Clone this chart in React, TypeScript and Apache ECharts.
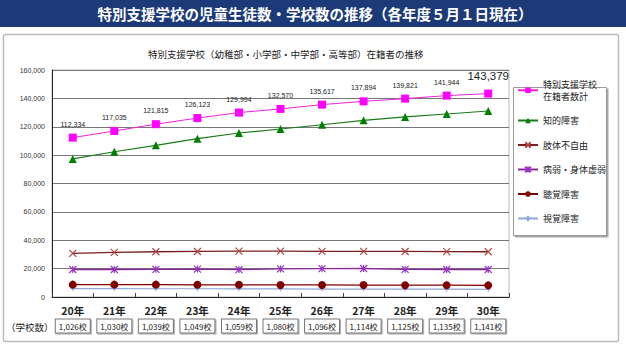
import React, { useEffect, useRef } from "react";
import * as echarts from "echarts";

const years = ["20年", "21年", "22年", "23年", "24年", "25年", "26年", "27年", "28年", "29年", "30年"];
const schoolCounts = ["1,026校", "1,030校", "1,039校", "1,049校", "1,059校", "1,080校", "1,096校", "1,114校", "1,125校", "1,135校", "1,141校"];
const totalStudents = [112334, 117035, 121815, 126123, 129994, 132570, 135617, 137894, 139821, 141944, 143379];
const intellectual = [97300, 102400, 106900, 111600, 115600, 118400, 121400, 124500, 126900, 129000, 131100];
const physical = [30800, 31500, 31900, 32100, 32300, 32300, 32200, 32200, 32100, 32000, 31900];
const health = [19400, 19400, 19500, 19700, 19300, 19800, 20000, 20100, 19500, 19400, 19400];
const hearing = [8700, 8700, 8700, 8600, 8600, 8500, 8500, 8400, 8300, 8300, 8200];
const visual = [5900, 5900, 5800, 5800, 5700, 5700, 5600, 5600, 5500, 5500, 5400];
const yTicks = { min: 0, max: 160000, interval: 20000 };

const titleText = "特別支援学校の児童生徒数・学校数の推移（各年度５月１日現在）";
const subTitle = "特別支援学校（幼稚部・小学部・中学部・高等部）在籍者の推移";
const names = ["特別支援学校在籍者数計", "知的障害", "肢体不自由", "病弱・身体虚弱", "聴覚障害", "視覚障害"];
const firstNameLines = ["特別支援学校", "在籍者数計"];

const JP = "'Noto Sans CJK JP', 'Noto Sans', sans-serif";
const NUM = "'Liberation Sans', Arial, sans-serif";

const fmt = (v: number) => v.toLocaleString("en-US");

export default function App() {
  const ref = useRef<HTMLDivElement>(null);
  useEffect(() => {
    if (!ref.current) return;
    const chart = echarts.init(ref.current, undefined, { renderer: "svg" });
    const crossPath = "path://M0,0L10,10M10,0L0,10";
    const starPath = "path://M0,0L10,10M10,0L0,10M5,0L5,10";
    const plusPath = "path://M3,5L7,5M5,0L5,10";
    const option: any = {
      animation: false,
      textStyle: { fontFamily: JP },
      grid: { left: 52, right: 117, top: 70, bottom: 54, show: true, borderColor: "#bbb", borderWidth: 1 },
      xAxis: {
        type: "category",
        data: years,
        boundaryGap: true,
        axisLine: { lineStyle: { color: "#222", width: 1 } },
        axisTick: { show: true, inside: true, length: 4, lineStyle: { color: "#444" } },
        axisLabel: {
          margin: 4,
          interval: 0,
          formatter: (v: string, i: number) => `{a|${v}}\n{b|${schoolCounts[i]}}`,
          rich: {
            a: { fontSize: 10.5, fontWeight: "bold", color: "#222", lineHeight: 18, fontFamily: JP },
            b: {
              fontSize: 8,
              color: "#222",
              fontFamily: JP,
              borderColor: "#777",
              borderWidth: 1,
              padding: [3, 3, 2, 3],
              backgroundColor: "#fff",
              shadowColor: "rgba(0,0,0,0.35)",
              shadowOffsetX: 1,
              shadowOffsetY: 1,
              shadowBlur: 0,
              lineHeight: 14,
            },
          },
        },
      },
      yAxis: {
        type: "value",
        min: yTicks.min,
        max: yTicks.max,
        interval: yTicks.interval,
        axisLine: { show: true, lineStyle: { color: "#222" } },
        axisTick: { show: false },
        axisLabel: { fontSize: 7, color: "#333", fontFamily: NUM, formatter: (v: number) => fmt(v), margin: 7 },
        splitLine: { lineStyle: { color: "#777", width: 1 } },
      },
      legend: {
        data: names,
        orient: "vertical",
        left: 517,
        top: 80,
        padding: 0,
        itemWidth: 20,
        itemHeight: 7,
        itemGap: 15.5,
        selectedMode: false,
        formatter: (n: string) =>
          n === names[0] ? firstNameLines.map((l) => `{t|${l}}`).join("\n") : `{s|${n}}`,
        textStyle: {
          color: "#222",
          fontFamily: JP,
          fontSize: 9,
          rich: {
            t: { fontSize: 9, lineHeight: 11.5, color: "#222", fontFamily: JP },
            s: { fontSize: 9, lineHeight: 11, color: "#222", fontFamily: JP },
          },
        },
      },
      series: [
        {
          name: names[0],
          type: "line",
          data: totalStudents.map((v, i) =>
            i === totalStudents.length - 1
              ? { value: v, label: { fontSize: 11.5, distance: 8, color: "#222" } }
              : v
          ),
          symbol: "rect",
          symbolSize: 8,
          lineStyle: { color: "#ee22dd", width: 1 },
          itemStyle: { color: "#ff00ff" },
          label: { show: true, position: "top", fontSize: 7, color: "#222", fontFamily: NUM, distance: 6, formatter: (p: any) => fmt(p.value) },
          z: 5,
        },
        {
          name: names[1],
          type: "line",
          data: intellectual,
          symbol: "triangle",
          symbolSize: 8,
          lineStyle: { color: "#1a7a1a", width: 1.2 },
          itemStyle: { color: "#008000" },
          z: 4,
        },
        {
          name: names[2],
          type: "line",
          data: physical,
          symbol: crossPath,
          symbolSize: 7,
          lineStyle: { color: "#7a1f1f", width: 1.3 },
          itemStyle: { color: "#b04848", borderColor: "#b04848", borderWidth: 1.2 },
          z: 4,
        },
        {
          name: names[3],
          type: "line",
          data: health,
          symbol: starPath,
          symbolSize: 7,
          lineStyle: { color: "#8a2a9a", width: 1.3 },
          itemStyle: { color: "#9933cc", borderColor: "#9933cc", borderWidth: 1.2 },
          z: 4,
        },
        {
          name: names[4],
          type: "line",
          data: hearing,
          symbol: "circle",
          symbolSize: 8,
          lineStyle: { color: "#800000", width: 1.3 },
          itemStyle: { color: "#800000" },
          z: 4,
        },
        {
          name: names[5],
          type: "line",
          data: visual,
          symbol: plusPath,
          symbolSize: 5,
          lineStyle: { color: "#8fa8d8", width: 1.2 },
          itemStyle: { color: "#8fa8d8", borderColor: "#8fa8d8", borderWidth: 1 },
          z: 3,
        },
      ],
      graphic: [
        { type: "rect", shape: { x: 0, y: 0, width: 626, height: 27 }, style: { fill: "#1d3a78" }, z: 0 },
        {
          type: "text",
          x: 315,
          y: 13.5,
          style: { text: titleText, fill: "#fff", fontSize: 14.5, fontWeight: "bold", fontFamily: JP, align: "center", verticalAlign: "middle" },
          z: 1,
        },
        {
          type: "rect",
          shape: { x: 3.5, y: 34.5, width: 615, height: 307, r: 2 },
          style: { fill: "none", stroke: "#bbb", lineWidth: 1.5 },
          z: -1,
        },
        {
          type: "text",
          x: 148,
          y: 54,
          style: { text: subTitle, fill: "#222", fontSize: 9.5, fontFamily: JP, align: "left", verticalAlign: "middle" },
        },
        {
          type: "rect",
          shape: { x: 513.5, y: 87.5, width: 93, height: 148 },
          style: { fill: "#fff", stroke: "#999", lineWidth: 1, shadowColor: "rgba(0,0,0,0.35)", shadowOffsetX: 1.5, shadowOffsetY: 1.5, shadowBlur: 1 },
          z: -1,
        },
        {
          type: "text",
          x: 6,
          y: 327,
          style: { text: "（学校数）", fill: "#222", fontSize: 9.5, fontFamily: JP, align: "left", verticalAlign: "middle" },
        },
      ],
    };
    chart.setOption(option);
    return () => chart.dispose();
  }, []);
  return <div ref={ref} style={{ position: "absolute", left: 0, top: 0, width: 626, height: 351, background: "#fff" }} />;
}
